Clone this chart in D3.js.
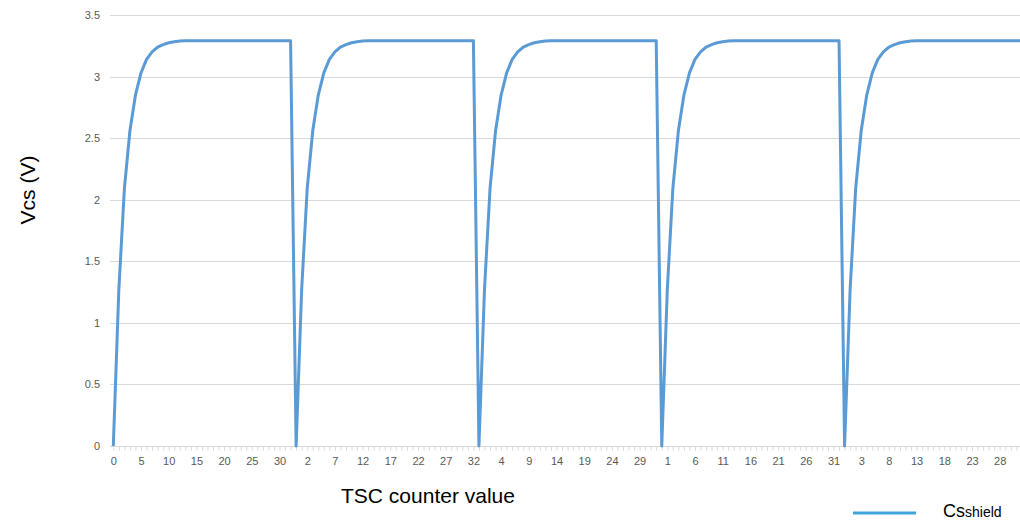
<!DOCTYPE html>
<html lang="en">
  <head>
    <meta charset="UTF-8">
    <title>TSC charge cycles</title>
    <style>
      body { margin: 0; background: #fff; overflow: hidden; }
      .grid line { stroke: #d9d9d9; stroke-width: 1; }
      .axis-x path { stroke: #d9d9d9; }
      .axis-x .tick line { stroke: #d9d9d9; }
      .tick text { fill: #595959; font-family: "Liberation Sans", Arial, sans-serif; font-size: 11px; }
      .title { fill: #000; font-family: "Liberation Sans", Arial, sans-serif; font-size: 21px; }
    </style>
    <script src="https://d3js.org/d3.v7.min.js"></script>
  </head>
  <body>
    <script>
      // Vcs readings for each charge cycle, one array per cycle (index = TSC counter value)
      const cycle1 = [0, 1.27, 2.09, 2.56, 2.85, 3.03, 3.14, 3.2, 3.24, 3.26, 3.275, 3.283, 3.288, 3.29, 3.29, 3.29, 3.29,
        3.29, 3.29, 3.29, 3.29, 3.29, 3.29, 3.29, 3.29, 3.29, 3.29, 3.29, 3.29, 3.29, 3.29, 3.29, 3.29];
      const cycle2 = [0, 1.27, 2.09, 2.56, 2.85, 3.03, 3.14, 3.2, 3.24, 3.26, 3.275, 3.283, 3.288, 3.29, 3.29, 3.29, 3.29,
        3.29, 3.29, 3.29, 3.29, 3.29, 3.29, 3.29, 3.29, 3.29, 3.29, 3.29, 3.29, 3.29, 3.29, 3.29, 3.29];
      const cycle3 = [0, 1.27, 2.09, 2.56, 2.85, 3.03, 3.14, 3.2, 3.24, 3.26, 3.275, 3.283, 3.288, 3.29, 3.29, 3.29, 3.29,
        3.29, 3.29, 3.29, 3.29, 3.29, 3.29, 3.29, 3.29, 3.29, 3.29, 3.29, 3.29, 3.29, 3.29, 3.29, 3.29];
      const cycle4 = [0, 1.27, 2.09, 2.56, 2.85, 3.03, 3.14, 3.2, 3.24, 3.26, 3.275, 3.283, 3.288, 3.29, 3.29, 3.29, 3.29,
        3.29, 3.29, 3.29, 3.29, 3.29, 3.29, 3.29, 3.29, 3.29, 3.29, 3.29, 3.29, 3.29, 3.29, 3.29, 3.29];
      const cycle5 = [0, 1.27, 2.09, 2.56, 2.85, 3.03, 3.14, 3.2, 3.24, 3.26, 3.275, 3.283, 3.288, 3.29, 3.29, 3.29, 3.29,
        3.29, 3.29, 3.29, 3.29, 3.29, 3.29, 3.29, 3.29, 3.29, 3.29, 3.29, 3.29, 3.29, 3.29, 3.29, 3.29];
      const cycles = [cycle1, cycle2, cycle3, cycle4, cycle5];
      const yTicks = [0, 0.5, 1, 1.5, 2, 2.5, 3, 3.5];
      const labelEvery = 5;

      // flatten into one category axis: each point keeps its counter value as label
      const data = [];
      cycles.forEach(c => c.forEach((v, i) => data.push({ key: data.length, counter: i, v: v })));

      const width = 1020, height = 520;
      const plotLeft = 110, plotRight = 1020, plotTop = 15, plotBottom = 446;

      const svg = d3.select("body").append("svg")
        .attr("width", width)
        .attr("height", height);

      svg.append("defs").append("clipPath")
        .attr("id", "plot-clip")
        .append("rect")
        .attr("x", plotLeft - 5).attr("y", 0)
        .attr("width", plotRight - plotLeft + 5).attr("height", plotBottom + 5);

      const x = d3.scalePoint()
        .domain(data.map(d => d.key))
        .range([113.3, 113.3 + (data.length - 1) * 5.54]);

      const y = d3.scaleLinear()
        .domain([0, 3.5])
        .range([plotBottom, plotTop]);

      svg.append("g")
        .attr("class", "grid")
        .selectAll("line")
        .data(yTicks.slice(1))
        .join("line")
        .attr("x1", plotLeft)
        .attr("x2", plotRight)
        .attr("y1", d => Math.round(y(d)) + 0.5)
        .attr("y2", d => Math.round(y(d)) + 0.5);

      const xAxis = svg.append("g")
        .attr("class", "axis-x")
        .attr("transform", `translate(0,${plotBottom + 0.5})`)
        .call(d3.axisBottom(x)
          .tickValues(data.map(d => d.key).filter(k => x(k) <= plotRight))
          .tickSize(4)
          .tickSizeOuter(0)
          .tickFormat(k => k % labelEvery === 0 ? data[k].counter : ""));
      xAxis.select(".domain").attr("d", `M${plotLeft},0H${plotRight}`);
      xAxis.selectAll(".tick text").attr("dy", "0.95em").attr("y", 8);

      const yAxis = svg.append("g")
        .attr("transform", `translate(${plotLeft - 4},0)`)
        .call(d3.axisLeft(y).tickValues(yTicks).tickSize(0).tickPadding(6).tickFormat(d3.format("~g")));
      yAxis.select(".domain").remove();

      const line = d3.line()
        .x(d => x(d.key))
        .y(d => y(d.v));

      svg.append("path")
        .datum(data)
        .attr("clip-path", "url(#plot-clip)")
        .attr("fill", "none")
        .attr("stroke", "#5b9bd5")
        .attr("stroke-width", 3)
        .attr("stroke-linejoin", "round")
        .attr("d", line);

      svg.append("text")
        .attr("class", "title")
        .attr("text-anchor", "middle")
        .attr("x", 428)
        .attr("y", 503)
        .text("TSC counter value");

      svg.append("text")
        .attr("class", "title")
        .attr("text-anchor", "middle")
        .attr("transform", "translate(35,190) rotate(-90)")
        .text("Vcs (V)");

      // legend
      svg.append("line")
        .attr("x1", 853).attr("x2", 916)
        .attr("y1", 513).attr("y2", 513)
        .attr("stroke", "#41a5dd")
        .attr("stroke-width", 3);

      const leg = svg.append("text")
        .attr("x", 943)
        .attr("y", 517)
        .attr("font-family", "Liberation Sans, Arial, sans-serif")
        .attr("fill", "#000");
      leg.append("tspan").attr("font-size", "18px").text("Cs");
      leg.append("tspan").attr("font-size", "14px").text("shield");
    </script>
  </body>
</html>
